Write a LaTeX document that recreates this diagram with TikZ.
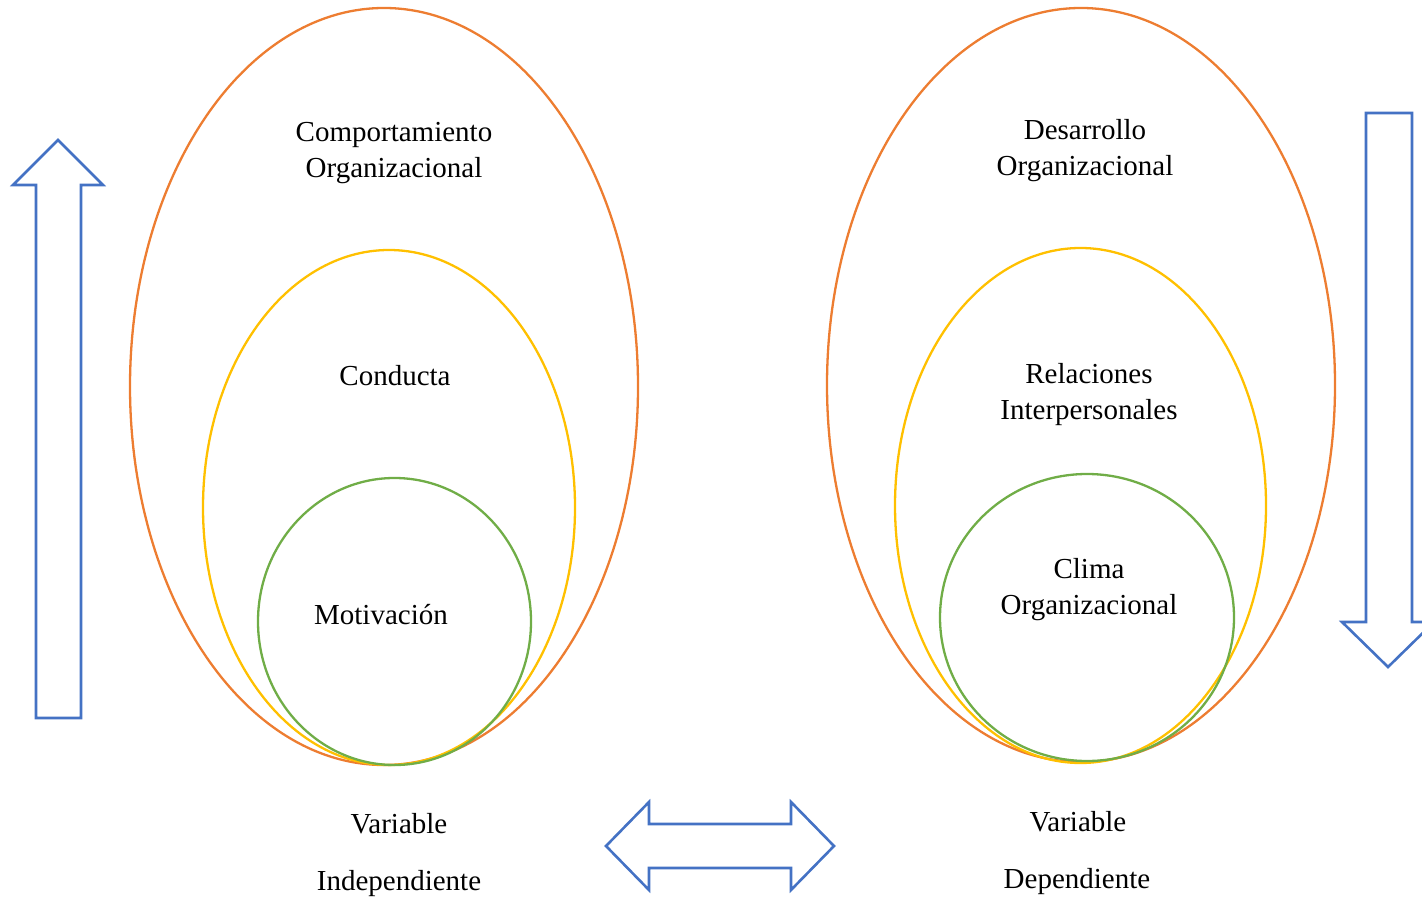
\documentclass[tikz,border=0pt]{standalone}
\usepackage{fontspec}
\setmainfont{Liberation Serif}
\begin{document}
\begin{tikzpicture}[x=0.5pt,y=-0.5pt]
  % Colors
  \definecolor{outercolor}{HTML}{ED7D31}
  \definecolor{middlecolor}{HTML}{FFC000}
  \definecolor{innercolor}{HTML}{70AD47}
  \definecolor{arrowcolor}{HTML}{4472C4}

  % Styles
  \tikzstyle{ring}=[line width=1.15pt]
  \tikzstyle{block arrow}=[draw=arrowcolor,line width=1.3pt,line join=miter]
  \tikzstyle{label text}=[align=center,font=\fontsize{14.5}{18}\selectfont,inner sep=0pt]

  % The graphic
  \useasboundingbox (0,0) rectangle (1422,897);

  % Left group
  \draw[style=ring,outercolor] (384,386.5) ellipse [x radius=254, y radius=378.5];
  \draw[style=ring,middlecolor] (389,507.5) ellipse [x radius=186, y radius=257.5];
  \draw[style=ring,innercolor] (394.5,621.5) ellipse [x radius=136.5, y radius=143.5];

  \node[style=label text] (comp) at (394,153) {Comportamiento\\Organizacional};
  \node[style=label text] (cond) at (395,376) {Conducta};
  \node[style=label text] (moti) at (381,615) {Motivación};

  % Right group
  \draw[style=ring,outercolor] (1081,385) ellipse [x radius=254, y radius=377];
  \draw[style=ring,middlecolor] (1080.5,505.5) ellipse [x radius=185.5, y radius=257.5];
  \draw[style=ring,innercolor] (1087,617.5) ellipse [x radius=147, y radius=143.5];

  \node[style=label text] (desa) at (1085,151) {Desarrollo\\Organizacional};
  \node[style=label text] (rela) at (1089,395) {Relaciones\\Interpersonales};
  \node[style=label text] (clim) at (1089,590) {Clima\\Organizacional};

  % Variables
  \node[style=label text] (vari) at (399,824) {Variable};
  \node[style=label text] (inde) at (399,884) {Independiente};
  \node[style=label text] (vard) at (1078,822) {Variable};
  \node[style=label text] (depe) at (1077,882) {Dependiente};

  % Arrows
  \draw[style=block arrow] (36,718) -- (36,185) -- (13,185) -- (58,140)
    -- (103,185) -- (81,185) -- (81,718) -- cycle;

  \draw[style=block arrow] (1366,113) -- (1366,622) -- (1342,622) -- (1388,667)
    -- (1434,622) -- (1412,622) -- (1412,113) -- cycle;

  \draw[style=block arrow] (606,846) -- (649,802) -- (649,824) -- (791,824)
    -- (791,802) -- (834,846) -- (791,890) -- (791,868) -- (649,868)
    -- (649,890) -- cycle;
\end{tikzpicture}
\end{document}
